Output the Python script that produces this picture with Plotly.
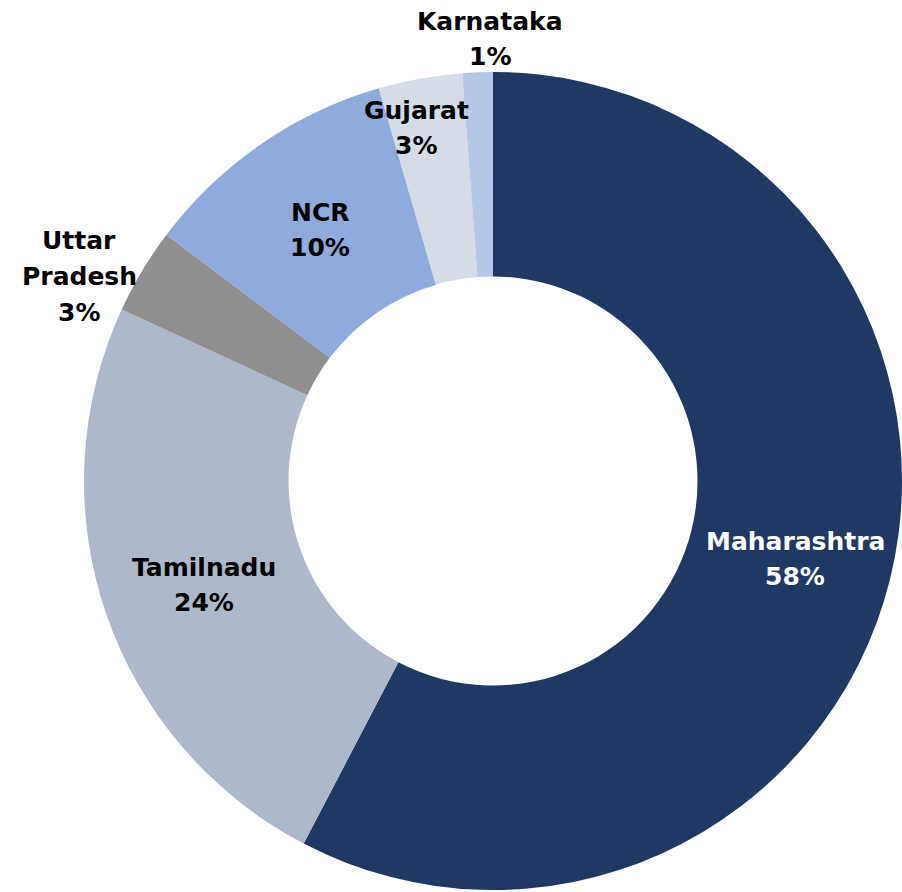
import plotly.graph_objects as go

# ---- data ----
states = ["Maharashtra", "Tamilnadu", "Uttar Pradesh", "NCR", "Gujarat", "Karnataka"]
shares = [57.6, 24.2, 3.4, 10.2, 3.3, 1.2]

# ---- style ----
colors = ["#203864", "#ADB9CA", "#8F8F8F", "#8FAADC", "#D6DCE5", "#B4C7E7"]
label_names = ["Maharashtra", "Tamilnadu", "Uttar<br>Pradesh", "NCR", "Gujarat", "Karnataka"]
label_colors = ["white", "black", "black", "black", "black", "black"]
# label centres (page pixel coords of first line)
label_pos = [(795, 541), (204, 567), (79, 241), (320, 212), (416, 110), (490, 21)]

W, H = 902, 892
CX, CY, R = 493, 481, 409
FONT = "DejaVu Sans"
FS = 25
LINE = 35.5

total = sum(shares)
pcts = [round(v / total * 100) for v in shares]

fig = go.Figure(go.Pie(
    labels=states,
    values=shares,
    hole=0.5,
    sort=False,
    direction="clockwise",
    rotation=0,
    marker=dict(colors=colors, line=dict(width=0)),
    textinfo="none",
    hoverinfo="label+percent",
    domain=dict(x=[(CX - R) / W, min(1, (CX + R) / W)],
                y=[max(0, (H - CY - R) / H), (H - CY + R) / H]),
    showlegend=False,
))

annotations = []
for name, pct, col, (px, py) in zip(label_names, pcts, label_colors, label_pos):
    lines = name.split("<br>") + [f"{pct}%"]
    for i, ln in enumerate(lines):
        annotations.append(dict(
            x=px / W, y=1 - (py + i * LINE) / H,
            xref="paper", yref="paper",
            text=f"<b>{ln}</b>", showarrow=False,
            xanchor="center", yanchor="middle", borderpad=0,
            font=dict(family=FONT, size=FS, color=col),
        ))

fig.update_layout(
    width=W, height=H,
    margin=dict(l=0, r=0, t=0, b=0),
    paper_bgcolor="white",
    plot_bgcolor="white",
    annotations=annotations,
)

fig.write_html(
    "out.html",
    config={"displayModeBar": False},
    post_script="document.body.style.margin='0';document.body.style.overflow='hidden';",
)
